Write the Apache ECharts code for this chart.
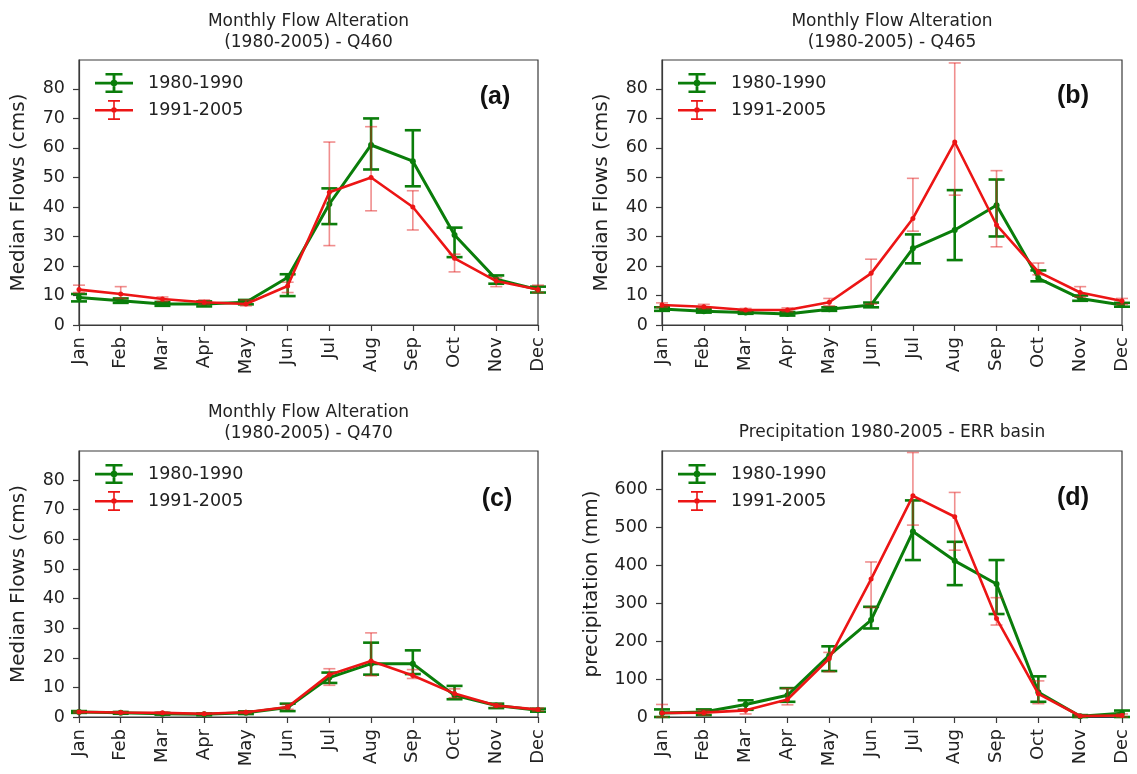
<!DOCTYPE html>
<html>
<head>
<meta charset="utf-8">
<script src="https://cdn.jsdelivr.net/npm/echarts@6/dist/echarts.min.js"></script>
<style>
  html, body { margin: 0; padding: 0; background: #fff; }
  #chart { width: 1137px; height: 774px; }
</style>
</head>
<body>
<div id="chart"></div>
<script>
// ---- data ----
var months = ['Jan', 'Feb', 'Mar', 'Apr', 'May', 'Jun', 'Jul', 'Aug', 'Sep', 'Oct', 'Nov', 'Dec'];
var flowTicks = [0, 10, 20, 30, 40, 50, 60, 70, 80];
var precipTicks = [0, 100, 200, 300, 400, 500, 600];

// (a) Q460
var aGreenMed = [9.3, 8.2, 7.1, 7.1, 7.7, 16.1, 41, 61, 55.5, 30.5, 15.5, 12];
var aGreenLo = [8, 7.5, 6.5, 6.3, 7, 9.8, 34.2, 52.7, 47, 23, 14, 11];
var aGreenHi = [10.5, 9, 7.8, 8, 8.5, 17.2, 46.3, 70, 66, 33, 16.8, 13];
var aRedMed = [12, 10.5, 8.8, 7.7, 7.1, 13.2, 45, 50, 40, 22.6, 14.9, 12];
var aRedLo = [11, 9, 8, 7, 6.5, 11, 26.9, 38.7, 32.2, 18, 13, 11];
var aRedHi = [13.5, 13, 9.5, 8.5, 8.5, 14.5, 62, 67.2, 45.5, 24, 16, 13.5];

// (b) Q465
var bGreenMed = [5.4, 4.7, 4.2, 3.7, 5.3, 6.8, 26, 32.2, 40.6, 15.8, 9, 6.8];
var bGreenLo = [4.8, 4.2, 3.8, 3.2, 4.8, 6, 20.9, 22, 30, 14.8, 8.2, 6.2];
var bGreenHi = [6, 5.5, 4.8, 4.4, 6, 7.6, 30.7, 45.7, 49.3, 18.5, 10, 7.5];
var bRedMed = [6.8, 6.2, 5.1, 5.1, 7.7, 17.5, 36.1, 62, 33.9, 18, 11, 8.1];
var bRedLo = [6, 5.5, 4.6, 4.5, 6.5, 7.1, 31.8, 44, 26.5, 17, 9.5, 7];
var bRedHi = [7.5, 7, 5.6, 5.8, 9, 22.3, 49.7, 88.8, 52.3, 21, 13, 9];

// (c) Q470
var cGreenMed = [1.7, 1.4, 1.1, 0.9, 1.4, 3.2, 13.3, 18, 18, 7.3, 3.9, 2.3];
var cGreenLo = [1.4, 1.1, 0.8, 0.6, 1.0, 2.0, 11.5, 14.3, 14.5, 6, 3.0, 1.8];
var cGreenHi = [2.0, 1.7, 1.4, 1.2, 1.9, 4.5, 15, 25.1, 22.5, 10.5, 4.5, 2.8];
var cRedMed = [1.7, 1.5, 1.4, 1.1, 1.6, 3.4, 14.3, 18.9, 14, 7.9, 3.9, 2.5];
var cRedLo = [1.4, 1.2, 1.1, 0.8, 1.2, 2.6, 10.7, 13.9, 13, 6.5, 3.2, 2.0];
var cRedHi = [2.0, 1.8, 1.7, 1.4, 2.0, 4.2, 16.3, 28.4, 16, 9.5, 4.5, 3.0];

// (d) precipitation, ERR basin
var dGreenMed = [10.5, 13, 33, 57, 162, 255, 488, 411, 350, 65, 2, 10];
var dGreenLo = [0, 5, 19, 40, 121, 233, 413, 347, 271, 40, 0, 0];
var dGreenHi = [20, 20, 44, 76, 186, 290, 570, 461, 413, 107, 5, 17];
var dRedMed = [10.5, 11.5, 17.5, 46, 154, 363, 582, 527, 259, 61, 2.6, 4];
var dRedLo = [0, 5, 8, 32, 119, 288, 505, 439, 242, 35, 0, 0];
var dRedHi = [33, 18, 20, 75, 170, 408, 696, 591, 314, 95, 5, 8];

// ---- styling ----
var FONT = 'DejaVu Sans';
var GREEN = '#0a7d0a';
var RED = '#ec1515';
var RED_BAR = 'rgba(226, 30, 30, 0.5)';
var TEXT = '#222';
var FRAME = '#3a3a3a';

// legend icons: line + error bar with caps + dot
var ICON_GREEN = 'path://M0,8.7h38v2.8H0z M17.6,1h2.8v18h-2.8z M10.5,0h17v2.6h-17z M10.5,17.4h17v2.6h-17z M15.7,10a3.3,3.3 0 1,1 6.6,0a3.3,3.3 0 1,1 -6.6,0z';
var ICON_RED = 'path://M0,9h38v2.4H0z M18.2,1h1.6v18h-1.6z M13,0h12v1.7H13z M13,18.3h12v1.7H13z M16.2,10a2.8,2.8 0 1,1 5.6,0a2.8,2.8 0 1,1 -5.6,0z';

var panels = [
  { title: 'Monthly Flow Alteration\n(1980-2005) - Q460', tag: '(a)', yName: 'Median Flows (cms)',
    grid: { left: 79, top: 60, width: 459, height: 265 }, max: 89.8, ticks: flowTicks, nameGap: 50,
    gm: aGreenMed, gl: aGreenLo, gh: aGreenHi, rm: aRedMed, rl: aRedLo, rh: aRedHi,
    titleY: 32, tagX: 495, tagY: 97 },
  { title: 'Monthly Flow Alteration\n(1980-2005) - Q465', tag: '(b)', yName: 'Median Flows (cms)',
    grid: { left: 662, top: 60, width: 460, height: 265 }, max: 89.8, ticks: flowTicks, nameGap: 50,
    gm: bGreenMed, gl: bGreenLo, gh: bGreenHi, rm: bRedMed, rl: bRedLo, rh: bRedHi,
    titleY: 32, tagX: 1073, tagY: 96 },
  { title: 'Monthly Flow Alteration\n(1980-2005) - Q470', tag: '(c)', yName: 'Median Flows (cms)',
    grid: { left: 79, top: 451, width: 459, height: 266 }, max: 89.8, ticks: flowTicks, nameGap: 50,
    gm: cGreenMed, gl: cGreenLo, gh: cGreenHi, rm: cRedMed, rl: cRedLo, rh: cRedHi,
    titleY: 423, tagX: 497, tagY: 499 },
  { title: 'Precipitation 1980-2005 - ERR basin', tag: '(d)', yName: 'precipitation (mm)',
    grid: { left: 662, top: 451, width: 460, height: 266 }, max: 700, ticks: precipTicks, nameGap: 60,
    gm: dGreenMed, gl: dGreenLo, gh: dGreenHi, rm: dRedMed, rl: dRedLo, rh: dRedHi,
    titleY: 433, tagX: 1073, tagY: 498 }
];

function errData(lo, hi) {
  return lo.map(function(v, i) { return [i, v, hi[i]]; });
}

// vertical bar with caps, positioned through the grid's own axes
function errRenderer(color, width, cap) {
  return function(params, api) {
    var x = api.value(0);
    var pLo = api.coord([x, api.value(1)]);
    var pHi = api.coord([x, api.value(2)]);
    var style = { stroke: color, lineWidth: width };
    return {
      type: 'group',
      children: [
        { type: 'line', shape: { x1: pLo[0], y1: pLo[1], x2: pHi[0], y2: pHi[1] }, style: style },
        { type: 'line', shape: { x1: pLo[0] - cap, y1: pLo[1], x2: pLo[0] + cap, y2: pLo[1] }, style: style },
        { type: 'line', shape: { x1: pHi[0] - cap, y1: pHi[1], x2: pHi[0] + cap, y2: pHi[1] }, style: style }
      ]
    };
  };
}

var grids = [], xAxes = [], yAxes = [], series = [], legends = [], graphics = [];

panels.forEach(function(p, i) {
  grids.push(Object.assign({ show: true, borderColor: FRAME, borderWidth: 1.2, backgroundColor: '#fff' }, p.grid));

  xAxes.push({
    gridIndex: i,
    type: 'category',
    data: months,
    boundaryGap: false,
    axisLine: { lineStyle: { color: FRAME, width: 1.2 } },
    axisTick: { length: 6, lineStyle: { color: FRAME, width: 1.2 } },
    axisLabel: { rotate: 90, interval: 0, fontSize: 18, fontFamily: FONT, color: TEXT, margin: 12 },
    splitLine: { show: false }
  });

  yAxes.push({
    gridIndex: i,
    type: 'value',
    min: 0,
    max: p.max,
    name: p.yName,
    nameLocation: 'middle',
    nameRotate: 90,
    nameGap: p.nameGap,
    nameTextStyle: { fontSize: 20, fontFamily: FONT, color: TEXT },
    axisLine: { show: true, lineStyle: { color: FRAME, width: 1.2 } },
    axisTick: { show: true, length: 6, customValues: p.ticks, lineStyle: { color: FRAME, width: 1.2 } },
    axisLabel: { customValues: p.ticks, fontSize: 17.5, fontFamily: FONT, color: TEXT, margin: 14 },
    splitLine: { show: false }
  });

  series.push({
    type: 'custom', name: 'g-err-' + i, xAxisIndex: i, yAxisIndex: i, z: 1,
    renderItem: errRenderer(GREEN, 2.6, 8),
    encode: { x: 0, y: [1, 2] },
    data: errData(p.gl, p.gh),
    silent: true
  });
  series.push({
    type: 'line', name: '1980-1990', xAxisIndex: i, yAxisIndex: i, z: 2,
    data: p.gm,
    symbol: 'circle', symbolSize: 6, showAllSymbol: true,
    lineStyle: { color: GREEN, width: 3 },
    itemStyle: { color: GREEN },
    animation: false
  });
  series.push({
    type: 'custom', name: 'r-err-' + i, xAxisIndex: i, yAxisIndex: i, z: 3,
    renderItem: errRenderer(RED_BAR, 1.6, 6),
    encode: { x: 0, y: [1, 2] },
    data: errData(p.rl, p.rh),
    silent: true
  });
  series.push({
    type: 'line', name: '1991-2005', xAxisIndex: i, yAxisIndex: i, z: 4,
    data: p.rm,
    symbol: 'circle', symbolSize: 5, showAllSymbol: true,
    lineStyle: { color: RED, width: 2.6 },
    itemStyle: { color: RED },
    animation: false
  });

  legends.push({
    orient: 'vertical',
    left: p.grid.left + 16,
    top: p.grid.top + 13,
    padding: 0,
    itemWidth: 38,
    itemHeight: 20,
    itemGap: 7,
    selectedMode: false,
    itemStyle: { borderWidth: 0 },
    textStyle: { fontSize: 17.5, fontFamily: FONT, color: TEXT, padding: [0, 0, 0, 10] },
    data: [
      { name: '1980-1990', icon: ICON_GREEN },
      { name: '1991-2005', icon: ICON_RED }
    ]
  });

  graphics.push({
    type: 'text',
    x: p.grid.left + p.grid.width / 2,
    y: p.titleY,
    style: {
      text: p.title,
      fontSize: 17,
      fontFamily: FONT,
      lineHeight: 21,
      fill: TEXT,
      align: 'center', verticalAlign: 'middle',
      textAlign: 'center', textVerticalAlign: 'middle'
    }
  });
  graphics.push({
    type: 'text',
    x: p.tagX,
    y: p.tagY,
    style: {
      text: p.tag,
      fontSize: 25,
      fontWeight: 'bold',
      fontFamily: 'Liberation Sans',
      fill: '#111',
      align: 'center', verticalAlign: 'middle',
      textAlign: 'center', textVerticalAlign: 'middle'
    }
  });
});

var chart = echarts.init(document.getElementById('chart'), null, { renderer: 'canvas' });
chart.setOption({
  backgroundColor: '#fff',
  animation: false,
  grid: grids,
  xAxis: xAxes,
  yAxis: yAxes,
  legend: legends,
  series: series,
  graphic: graphics
});
</script>
</body>
</html>
